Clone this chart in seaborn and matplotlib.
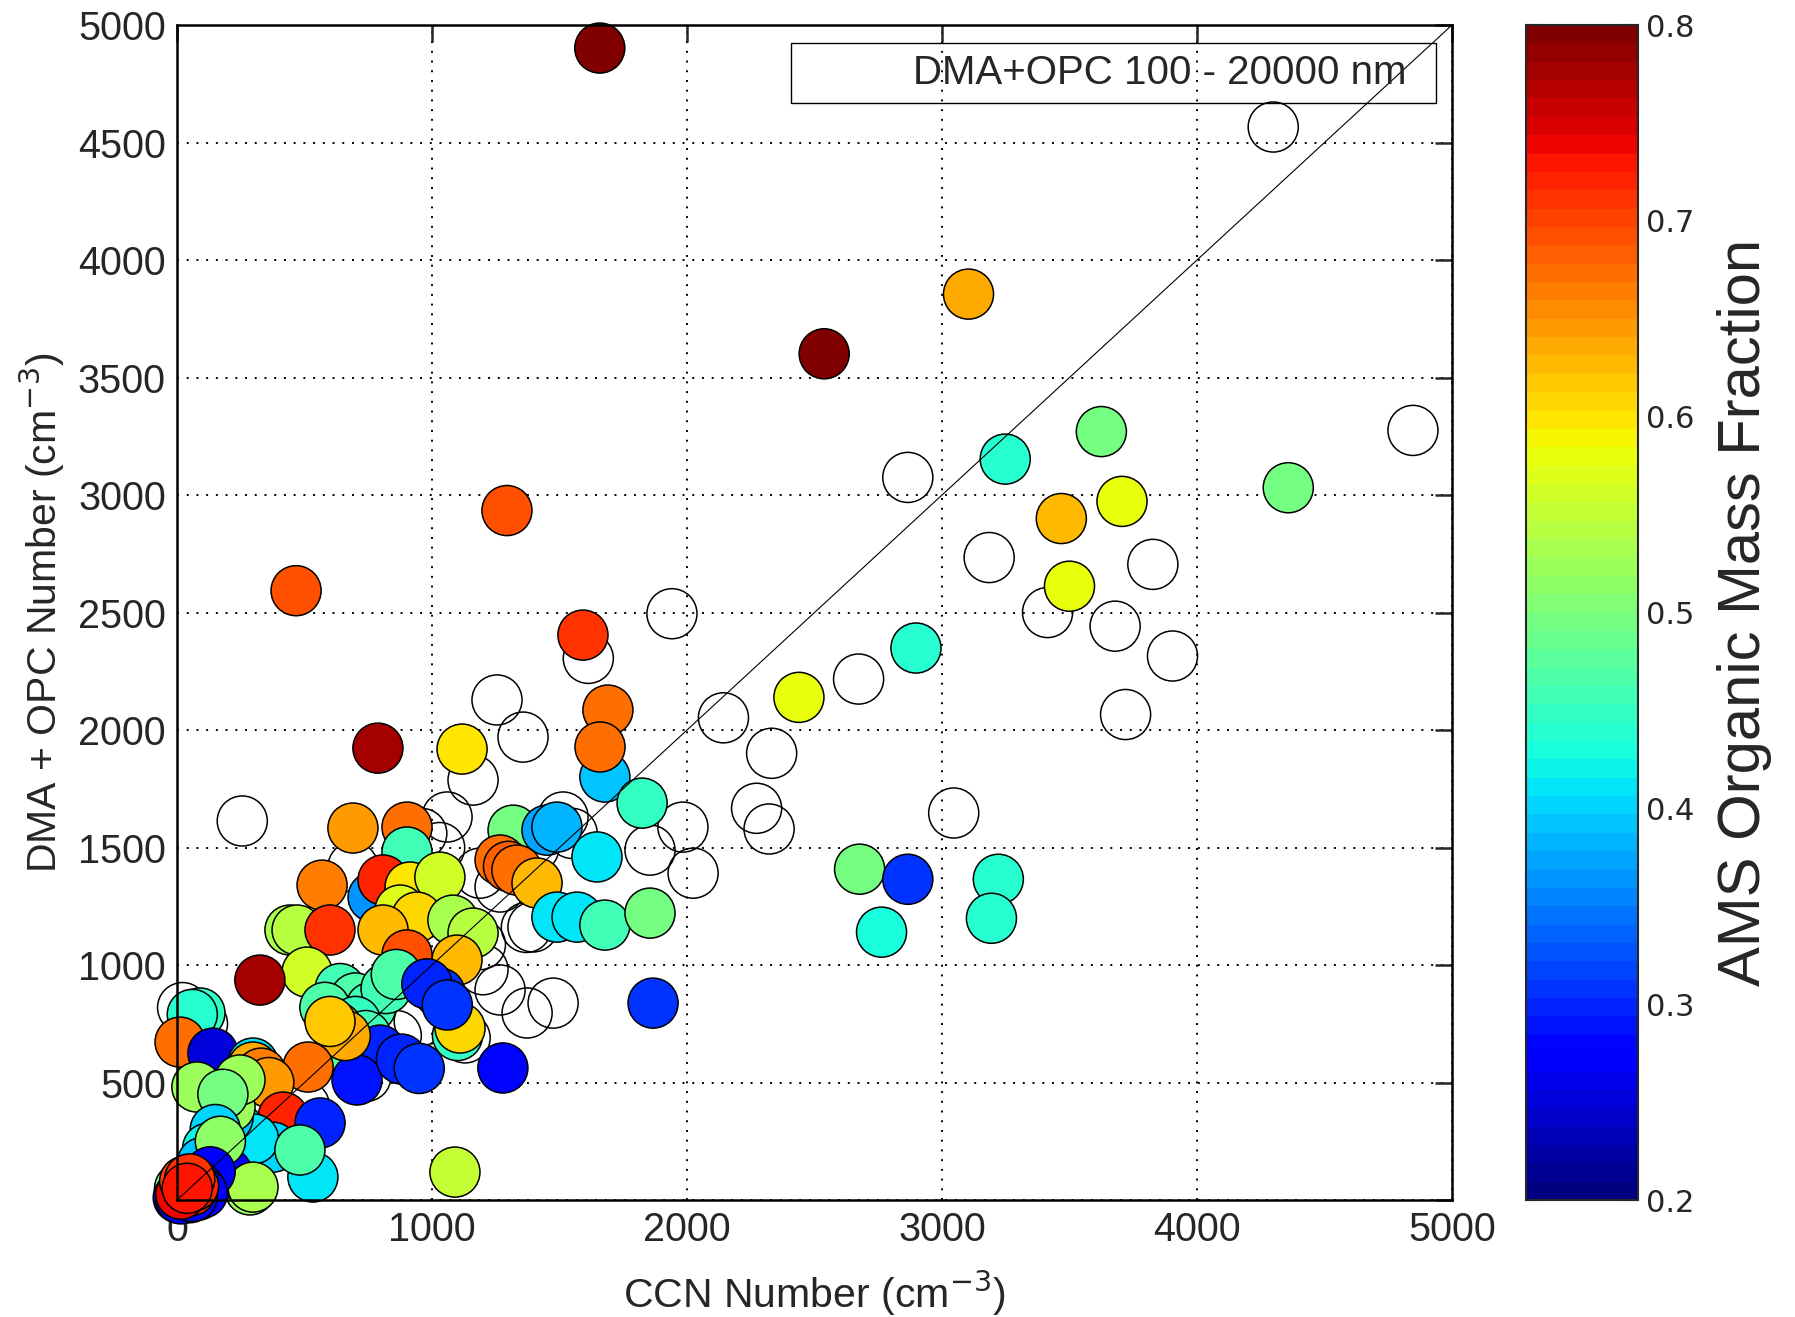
import numpy as np
import pandas as pd
import matplotlib
import matplotlib.pyplot as plt
from matplotlib.patches import Rectangle
import seaborn as sns

plt.switch_backend('Agg')
sns.set_style('white')
plt.rcParams['font.family'] = ['Liberation Sans', 'DejaVu Sans']

# coloured points: CCN number, DMA+OPC number, AMS organic mass fraction
ccn = [1658, 3104, 2538, 1294, 467, 1592, 3625, 3248, 4358, 3468, 3706, 3500, 2898, 2439,
       1690, 1678, 1659, 788, 1118, 1824, 690, 2677, 2866, 3221, 3194, 2763,
       1318, 1451, 1490, 1267, 1300, 1333, 1412, 1647, 1490, 1569, 1678, 1855, 1867,
       1278, 1090, 1100, 1110,
       902, 902, 769, 569, 443, 471, 600, 808, 914, 1031, 875, 941, 808, 1082, 1161,
       1098, 902, 510, 325,
       640, 700, 760, 820, 580, 700, 860, 740, 660,
       1031, 980, 1060, 796, 706, 880, 950,
       627, 660, 600, 514,
       90, 60, 12, 141, 78, 298, 298, 330, 360, 416, 561,
       247, 376, 300, 200, 208, 247, 180, 533, 482, 286, 196, 298,
       150, 120, 100, 170, 130,
       20, 40, 60, 30, 80, 10, 50, 70, 90, 100, 5, 15, 60, 25, 35, 45, 55, 15, 65, 30, 50, 40]
dma = [4902, 3855, 3601, 2934, 2593, 2404, 3270, 3153, 3031, 2900, 2973, 2612, 2349, 2139,
       2085, 1800, 1928, 1923, 1919, 1689, 1583, 1408, 1365, 1365, 1199, 1140,
       1574, 1574, 1587, 1447, 1420, 1404, 1349, 1460, 1204, 1204, 1170, 1221, 838,
       562, 119, 700, 732,
       1587, 1481, 1289, 1340, 1149, 1149, 1149, 1362, 1332, 1374, 1234, 1204, 1149, 1191, 1136,
       1021, 1043, 970, 936,
       900, 860, 820, 900, 820, 760, 960, 700, 640,
       881, 920, 830, 638, 511, 600, 560,
       736, 700, 760, 566,
       796, 790, 672, 625, 481, 583, 566, 540, 500, 353, 328,
       298, 225, 260, 350, 396, 511, 450, 98, 213, 43, 115, 55,
       300, 220, 160, 250, 120,
       20, 30, 40, 60, 20, 50, 10, 70, 50, 30, 10, 5, 15, 35, 45, 55, 40, 25, 60, 80, 90, 50]
org_frac = [0.80, 0.64, 0.80, 0.69, 0.69, 0.71, 0.50, 0.44, 0.50, 0.63, 0.58, 0.58, 0.44, 0.58,
            0.67, 0.39, 0.67, 0.78, 0.60, 0.45, 0.65, 0.50, 0.31, 0.44, 0.44, 0.43,
            0.50, 0.37, 0.38, 0.67, 0.68, 0.67, 0.63, 0.41, 0.41, 0.41, 0.46, 0.50, 0.31,
            0.28, 0.55, 0.45, 0.61,
            0.67, 0.46, 0.36, 0.66, 0.53, 0.54, 0.71, 0.72, 0.60, 0.56, 0.57, 0.61, 0.63, 0.53, 0.54,
            0.63, 0.69, 0.56, 0.78,
            0.46, 0.47, 0.46, 0.46, 0.47, 0.45, 0.47, 0.46, 0.48,
            0.31, 0.30, 0.31, 0.30, 0.29, 0.30, 0.31,
            0.63, 0.64, 0.62, 0.67,
            0.45, 0.44, 0.67, 0.25, 0.52, 0.41, 0.64, 0.66, 0.65, 0.72, 0.30,
            0.40, 0.40, 0.41, 0.39, 0.52, 0.52, 0.50, 0.41, 0.47, 0.52, 0.28, 0.53,
            0.40, 0.42, 0.39, 0.51, 0.27,
            0.25, 0.30, 0.35, 0.45, 0.28, 0.50, 0.32, 0.26, 0.29, 0.27, 0.24, 0.26, 0.28,
            0.70, 0.72, 0.73, 0.71, 0.74, 0.72, 0.70, 0.71, 0.73]

# points without AMS data (open circles)
ccn_open = [4299, 4847, 2866, 3185, 3827, 3414, 3679, 3904, 3720, 2673, 1941, 1613, 1255, 1357,
            2143, 2332, 2273, 2322, 256, 3046, 1984, 2024, 1855, 1161, 1059, 1514, 1188, 1267,
            1396, 1267, 1475, 1373, 1190, 1370, 22, 741, 690, 1030, 960, 1400, 1550, 860, 950,
            1200, 500, 100, 1130]
dma_open = [4566, 3275, 3075, 2734, 2705, 2500, 2442, 2315, 2066, 2217, 2495, 2305, 2128, 1970,
            2052, 1901, 1667, 1579, 1613, 1647, 1587, 1391, 1489, 1787, 1630, 1630, 1391, 1332,
            1162, 894, 838, 796, 1087, 1160, 819, 526, 1417, 1500, 1560, 1500, 1560, 700, 760,
            980, 400, 750, 690]

df = pd.DataFrame({'ccn': ccn, 'dma': dma, 'org': org_frac})

cmap = matplotlib.colormaps['jet'].resampled(64)
norm = matplotlib.colors.Normalize(0.2, 0.8)

fig = plt.figure(figsize=(17.95, 13.17), dpi=100)
ax = fig.add_axes([0.0986, 0.0888, 0.7103, 0.8922])
cax = fig.add_axes([0.850, 0.0888, 0.0624, 0.8922])

ax.scatter(ccn_open, dma_open, s=1300, facecolors='none', edgecolors='black', linewidths=1.1,
           zorder=3, clip_on=False)
sns.scatterplot(data=df, x='ccn', y='dma', hue='org', palette=cmap, hue_norm=norm,
                s=1300, edgecolor='black', linewidth=1.1, legend=False, ax=ax, zorder=4, clip_on=False)
ax.plot([0, 5000], [0, 5000], color='black', linewidth=0.8, zorder=5)

ax.set_xlim(0, 5000)
ax.set_ylim(0, 5000)
ax.set_xticks(np.arange(0, 5001, 1000))
ax.set_yticks(np.arange(0, 5001, 500))
ax.set_yticklabels([''] + [str(v) for v in range(500, 5001, 500)])
ax.grid(True, linestyle=(0, (1, 4)), color='black', linewidth=1.4)
ax.set_axisbelow(True)
ax.tick_params(direction='in', length=12, width=1.8, top=True, right=True, labelsize=28.5, pad=8)
for sp in ax.spines.values():
    sp.set_linewidth(1.8)
    sp.set_color('black')
    sp.set_zorder(6)
ax.set_xlabel('CCN Number (cm$^{-3}$)', fontsize=29.5, labelpad=14)
ax.set_ylabel('DMA + OPC Number (cm$^{-3}$)', fontsize=29.5, labelpad=8)

ax.add_patch(Rectangle((0.4816, 0.9336), 0.5059, 0.0507, transform=ax.transAxes,
                       facecolor='none', edgecolor='black', linewidth=1.0, zorder=6))
ax.text(0.964, 0.959, 'DMA+OPC 100 - 20000 nm', transform=ax.transAxes, ha='right', va='center',
        fontsize=29, zorder=7)

sm = matplotlib.cm.ScalarMappable(norm=norm, cmap=cmap)
cb = fig.colorbar(sm, cax=cax, ticks=np.arange(0.2, 0.81, 0.1))
cb.outline.set_linewidth(1.5)
cax.set_yticklabels(['0.2', '0.3', '0.4', '0.5', '0.6', '0.7', '0.8'], family='DejaVu Sans', fontsize=22)
cax.tick_params(direction='in', length=12, width=1.5, left=True, right=True, pad=6)
cb.set_label('AMS Organic Mass Fraction', fontsize=43, labelpad=16)

plt.savefig('out.png', dpi=100)
plt.close('all')
